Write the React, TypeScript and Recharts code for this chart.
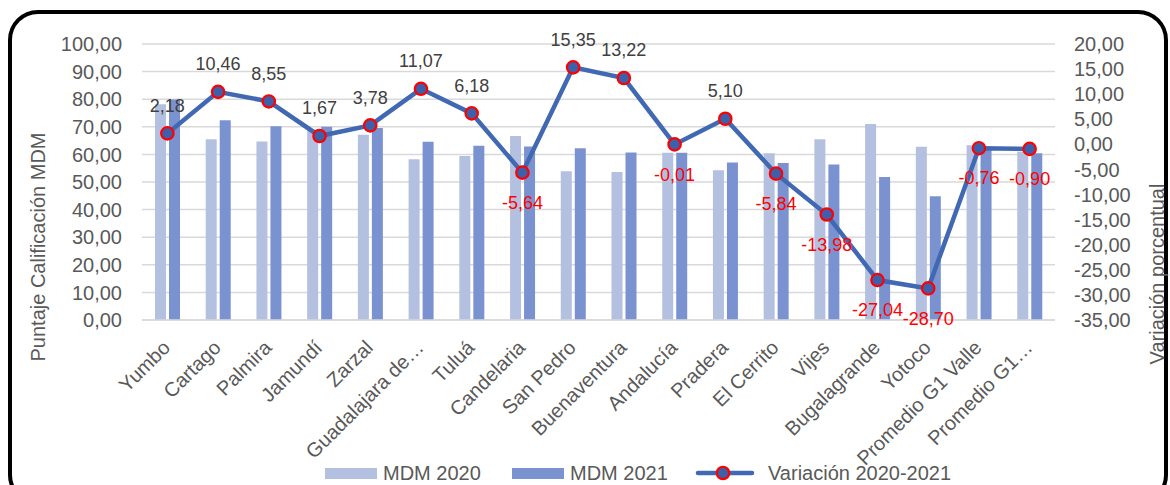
import React from 'react';
import {
  ComposedChart,
  Bar,
  Line,
  XAxis,
  YAxis,
  CartesianGrid,
  LabelList,
} from 'recharts';

const categories = [
  'Yumbo',
  'Cartago',
  'Palmira',
  'Jamundí',
  'Zarzal',
  'Guadalajara de…',
  'Tuluá',
  'Candelaria',
  'San Pedro',
  'Buenaventura',
  'Andalucía',
  'Pradera',
  'El Cerrito',
  'Vijes',
  'Bugalagrande',
  'Yotoco',
  'Promedio G1 Valle',
  'Promedio G1…',
];

const mdm2020 = [78.2, 65.5, 64.7, 68.9, 67.1, 58.2, 59.4, 66.7, 53.9, 53.6, 60.6, 54.3, 60.4, 65.5, 71.0, 62.8, 63.3, 61.0];
const mdm2021 = [79.9, 72.4, 70.2, 70.0, 69.6, 64.6, 63.1, 62.9, 62.2, 60.7, 60.6, 57.1, 56.9, 56.3, 51.8, 44.8, 62.8, 60.4];
const variation = [2.18, 10.46, 8.55, 1.67, 3.78, 11.07, 6.18, -5.64, 15.35, 13.22, -0.01, 5.1, -5.84, -13.98, -27.04, -28.7, -0.76, -0.9];

const leftTicks = [0, 10, 20, 30, 40, 50, 60, 70, 80, 90, 100];
const rightTicks = [-35, -30, -25, -20, -15, -10, -5, 0, 5, 10, 15, 20];

const seriesNames = ['MDM 2020', 'MDM 2021', 'Variación 2020-2021'];
const axisTitles = ['Puntaje Calificación MDM', 'Variación porcentual'];

const data = categories.map((c, i) => ({
  name: c,
  a: mdm2020[i],
  b: mdm2021[i],
  v: variation[i],
}));

const FONT = '"Liberation Sans", Arial, Helvetica, sans-serif';
const TEXT = '#595959';
const LIGHT = '#B4C0E0';
const DARK = '#7A93D0';
const LINE = '#4169B3';
const DOTFILL = '#3C60AA';

const fmt = (v: number) => v.toFixed(2).replace('.', ',');

const CatTick = (props: any) => {
  const { x, payload } = props;
  return (
    <g transform={`translate(${x - 1},${344})`}>
      <text
        textAnchor="end"
        transform="rotate(-45)"
        dy="0.35em"
        fontSize={20}
        fill={TEXT}
        fontFamily={FONT}
      >
        {payload.value}
      </text>
    </g>
  );
};

const Dot = (props: any) => {
  const { cx, cy } = props;
  if (cx == null || cy == null) return null;
  return <circle cx={cx} cy={cy} r={6.2} fill={DOTFILL} stroke="#FF0000" strokeWidth={2.2} />;
};

const ValLabel = (props: any) => {
  const { x, y, value } = props;
  const neg = value < 0;
  return (
    <text
      x={x}
      y={neg ? y + 30 : y - 28}
      dy="0.35em"
      textAnchor="middle"
      fontSize={18}
      fontFamily={FONT}
      fill={neg ? '#FF0000' : '#404040'}
    >
      {fmt(value)}
    </text>
  );
};

const LeftTitle = () => (
  <text
    x={38}
    y={247}
    transform="rotate(-90,38,247)"
    textAnchor="middle"
    dy="0.35em"
    fontSize={20}
    fontFamily={FONT}
    fill={TEXT}
  >
    {axisTitles[0]}
  </text>
);

const RightTitle = () => (
  <text
    x={1157}
    y={274}
    transform="rotate(-90,1157,274)"
    textAnchor="middle"
    dy="0.35em"
    fontSize={20}
    fontFamily={FONT}
    fill={TEXT}
  >
    {axisTitles[1]}
  </text>
);

const LegendBox = () => (
  <div
    style={{
      position: 'absolute',
      left: 0,
      top: 462,
      width: 1170,
      height: 22,
      fontFamily: FONT,
      fontSize: 20,
      color: TEXT,
    }}
  >
    <div style={{ position: 'absolute', left: 325, top: 6, width: 52, height: 11, background: LIGHT }} />
    <div style={{ position: 'absolute', left: 383, top: 0, lineHeight: '22px', whiteSpace: 'nowrap' }}>{seriesNames[0]}</div>
    <div style={{ position: 'absolute', left: 512, top: 6, width: 52, height: 11, background: DARK }} />
    <div style={{ position: 'absolute', left: 570, top: 0, lineHeight: '22px', whiteSpace: 'nowrap' }}>{seriesNames[1]}</div>
    <svg style={{ position: 'absolute', left: 694, top: 0 }} width={62} height={22}>
      <line x1={4} y1={11} x2={58} y2={11} stroke={LINE} strokeWidth={4.5} strokeLinecap="round" />
      <circle cx={29} cy={11} r={6.2} fill={DOTFILL} stroke="#FF0000" strokeWidth={2.2} />
    </svg>
    <div style={{ position: 'absolute', left: 768, top: 0, lineHeight: '22px', whiteSpace: 'nowrap' }}>{seriesNames[2]}</div>
  </div>
);

export default function App() {
  return (
    <div
      style={{
        position: 'absolute',
        left: 0,
        top: 0,
        width: 1170,
        height: 485,
        overflow: 'hidden',
        background: '#fff',
      }}
    >
      <div
        style={{
          position: 'absolute',
          left: 8,
          top: 10,
          width: 1160,
          height: 495,
          border: '4px solid #000',
          borderRadius: 30,
          boxSizing: 'border-box',
        }}
      />
      <div style={{ position: 'absolute', left: 0, top: 0 }}>
        <ComposedChart
          width={1170}
          height={485}
          data={data}
          margin={{ top: 44, right: 0, bottom: 0, left: 0 }}
          barGap={3}
        >
          <CartesianGrid yAxisId="left" vertical={false} stroke="#D9D9D9" strokeWidth={1.5} />
          <XAxis
            dataKey="name"
            interval={0}
            height={165}
            tick={<CatTick />}
            tickLine={false}
            axisLine={{ stroke: '#D9D9D9', strokeWidth: 1.5 }}
          />
          <YAxis
            yAxisId="left"
            domain={[0, 100]}
            ticks={leftTicks}
            interval={0}
            width={142}
            tickFormatter={fmt}
            tickLine={false}
            axisLine={false}
            tickSize={0}
            tickMargin={20}
            tick={{ fontSize: 20, fill: TEXT, fontFamily: FONT }}
            label={<LeftTitle />}
          />
          <YAxis
            yAxisId="right"
            orientation="right"
            domain={[-35, 20]}
            ticks={rightTicks}
            interval={0}
            width={115}
            tickFormatter={fmt}
            tickLine={false}
            axisLine={false}
            tickSize={0}
            tickMargin={19}
            tick={{ fontSize: 20, fill: TEXT, fontFamily: FONT, textAnchor: 'start' }}
            label={<RightTitle />}
          />
          <Bar yAxisId="left" dataKey="a" name={seriesNames[0]} fill={LIGHT} barSize={11} isAnimationActive={false} />
          <Bar yAxisId="left" dataKey="b" name={seriesNames[1]} fill={DARK} barSize={11} isAnimationActive={false} />
          <Line
            yAxisId="right"
            dataKey="v"
            name={seriesNames[2]}
            stroke={LINE}
            strokeWidth={4.5}
            dot={<Dot />}
            activeDot={false}
            isAnimationActive={false}
          >
            <LabelList dataKey="v" content={<ValLabel />} />
          </Line>
        </ComposedChart>
      </div>
      <LegendBox />
    </div>
  );
}
